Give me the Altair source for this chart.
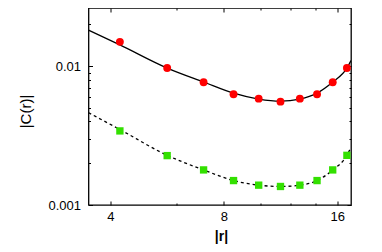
import altair as alt
import pandas as pd

# data
r_vals = [4.24, 5.66, 7.07, 8.49, 9.90, 11.31, 12.73, 14.14, 15.56, 16.97]
c_red = [0.0150, 0.00972, 0.00767, 0.00629, 0.00584, 0.00556, 0.00584, 0.00629, 0.00767, 0.00972]
c_green = [0.00342, 0.00227, 0.00179, 0.00150, 0.00139, 0.00136, 0.00139, 0.00150, 0.00179, 0.00228]

line_r = [3.5, 4.24, 5.66, 7.07, 8.49, 9.90, 11.31, 12.73, 14.14, 15.56, 16.97, 17.4]
line_solid = [0.0182, 0.01425, 0.0097, 0.0077, 0.0064, 0.0058, 0.0056, 0.0058, 0.0064, 0.0077, 0.0097, 0.0110]
line_dashed = [0.00463, 0.00350, 0.00228, 0.00179, 0.00150, 0.00139, 0.00136, 0.00139, 0.00150, 0.00179, 0.00228, 0.00261]

x_major = [4, 8, 16]
x_minor = [6, 10, 12, 14]
y_major = [0.001, 0.01]
y_minor = [0.002, 0.003, 0.004, 0.005, 0.006, 0.007, 0.008, 0.009, 0.02]

pts = pd.DataFrame({"r": r_vals, "red": c_red, "green": c_green})
lines = pd.DataFrame({"r": line_r, "solid": line_solid, "dashed": line_dashed})

W, H = 262.5, 197
FONT = "Liberation Sans"
RED = "#ff0000"
GREEN = "#33e000"

xs = alt.Scale(type="log", domain=[3.5, 17.4], nice=False)
ys = alt.Scale(type="log", domain=[0.001, 0.0263], nice=False)


def tick_axis(orient, values, size):
    return alt.Axis(orient=orient, values=values, tickSize=size, offset=-size,
                    labels=False, domain=False, grid=False, title=None,
                    ticks=True, tickColor="black", tickWidth=1)


x_label_axis = alt.Axis(orient="bottom", values=x_major, format="d", ticks=False,
                        tickSize=0, domain=False, grid=False, labelPadding=5,
                        labelFont=FONT, labelFontSize=13, labelColor="black",
                        title="|r|", titleFont=FONT, titleFontSize=14,
                        titleFontWeight="bold", titleColor="black",
                        titleX=132.5, titleY=31, titleBaseline="middle",
                        titleAlign="center")
y_label_axis = alt.Axis(orient="left", values=y_major, format=".3~f", ticks=False,
                        tickSize=0, domain=False, grid=False, labelPadding=8,
                        labelFont=FONT, labelFontSize=13, labelColor="black",
                        title="|C(r)|", titleFont=FONT, titleFontSize=15,
                        titleFontWeight="normal", titleColor="black",
                        titleX=-63, titleY=103, titleAngle=270,
                        titleBaseline="middle", titleAlign="center")

solid = alt.Chart(lines).mark_line(color="black", strokeWidth=1.3, clip=True,
                                    interpolate="monotone").encode(
    x=alt.X("r:Q", scale=xs, axis=tick_axis("bottom", x_minor, 2)),
    y=alt.Y("solid:Q", scale=ys, axis=tick_axis("left", y_minor, 2)),
)

dashed = alt.Chart(lines).mark_line(color="black", strokeWidth=1.3, strokeDash=[3, 3],
                                     clip=True, interpolate="monotone").encode(
    x=alt.X("r:Q", scale=xs, axis=tick_axis("top", x_major, 4)),
    y=alt.Y("dashed:Q", scale=ys, axis=tick_axis("right", y_major, 4)),
)

ghost = alt.Chart(pts).mark_point(opacity=0).encode(
    x=alt.X("r:Q", scale=xs, axis=tick_axis("top", x_minor, 2)),
    y=alt.Y("red:Q", scale=ys, axis=tick_axis("right", y_minor, 2)),
)

red = alt.Chart(pts).mark_point(shape="circle", filled=True, color=RED, size=62, opacity=1).encode(
    x=alt.X("r:Q", scale=xs, axis=x_label_axis),
    y=alt.Y("red:Q", scale=ys, axis=y_label_axis),
)

green = alt.Chart(pts).mark_point(shape="square", filled=True, color=GREEN, size=54, opacity=1).encode(
    x=alt.X("r:Q", scale=xs, axis=tick_axis("bottom", x_major, 4)),
    y=alt.Y("green:Q", scale=ys, axis=tick_axis("left", y_major, 4)),
)

chart = (
    alt.layer(solid, dashed, ghost, red, green)
    .resolve_axis(x="independent", y="independent")
    .properties(width=W, height=H,
                autosize=alt.AutoSizeParams(type="none"),
                padding={"left": 80.5, "top": 0, "right": 20, "bottom": 39})
    .configure_view(stroke="black", strokeWidth=1.3)
    .configure_axis(grid=False)
)

chart.save("out.html", embed_options={"renderer": "svg", "actions": False})
